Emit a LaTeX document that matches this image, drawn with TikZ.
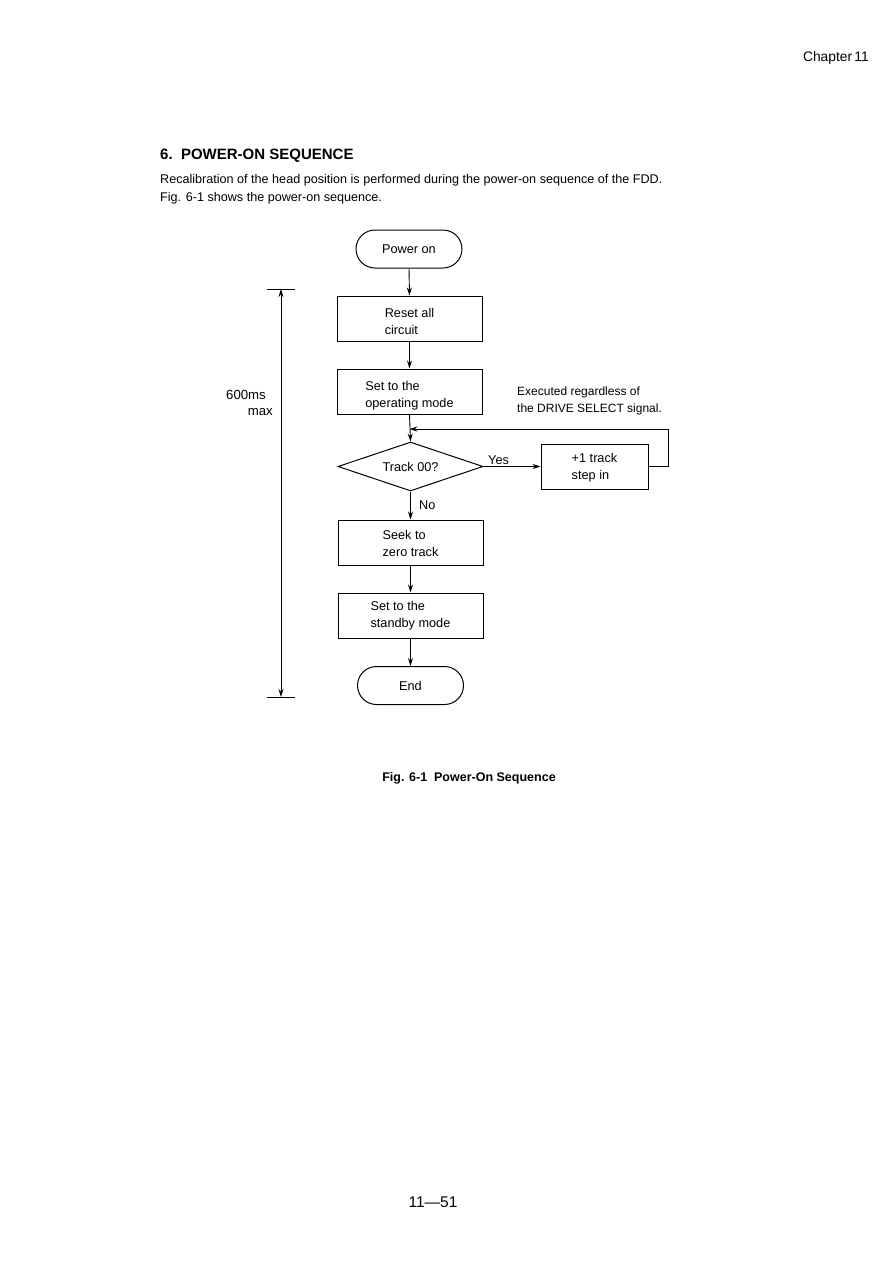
\documentclass[tikz,border=0pt]{standalone}
\usepackage{fontspec}
\setmainfont{Liberation Sans}
\usetikzlibrary{shapes.geometric,shapes.misc,arrows.meta}
\newcommand{\lowerby}[1]{\rule{0pt}{#1}}
\begin{document}
\begin{tikzpicture}[x=1pt,y=-1pt,
  every node/.style={inner sep=0pt},
  txt/.style={font=\fontsize{12.7}{17}\selectfont},
  box/.style={draw, line width=1pt, minimum width=145pt, minimum height=45pt, align=left, txt},
  term/.style={draw, line width=1pt, rounded rectangle, minimum width=106pt, minimum height=38pt, txt},
  dec/.style={draw, line width=1pt, diamond, aspect=3, minimum width=145pt, minimum height=49pt, txt},
  arr/.style={line width=0.9pt, -{Stealth[length=8pt,width=5pt]}},
  dim/.style={line width=0.9pt, {Stealth[length=8pt,width=5pt]}-{Stealth[length=8pt,width=5pt]}},
  body/.style={font=\fontsize{12.6}{18}\selectfont, anchor=base west}
]
\useasboundingbox (0,0) rectangle (889,1264);

% page text
\node[anchor=base east, font=\fontsize{13.8}{15}\selectfont] (chap) at (869,61) {Chapter\,11};
\node[anchor=base west, font=\fontsize{15}{18}\selectfont\bfseries] (head) at (160,159) {6.\ \ POWER-ON SEQUENCE};
\node[body] (p1) at (160,183) {Recalibration of the head position is performed during the power-on sequence of the FDD.};
\node[body] (p2) at (160,201) {Fig. 6-1 shows the power-on sequence.};
\node[font=\fontsize{12.5}{15}\selectfont\bfseries, anchor=base] (cap) at (469,781) {Fig. 6-1\ \ Power-On Sequence};
\node[font=\fontsize{15.5}{17}\selectfont, anchor=base] (pg) at (433,1207) {11---51};

% flowchart
\node[term] (pon) at (409,249) {Power on};
\node[box] (reset) at (409.5,318.5) {\lowerby{15pt}Reset all\\circuit};
\node[box] (oper) at (409.5,391.5) {\lowerby{18pt}Set to the\\operating mode};
\node[dec] (track) at (410.5,466.5) {Track 00?};
\node[box, minimum width=107pt] (step) at (594.5,466.5) {\lowerby{12pt}+1 track\\step in};
\node[box] (seek) at (410.5,542.5) {\lowerby{11pt}Seek to\\zero track};
\node[box] (stdby) at (410.5,615.5) {Set to the\\standby mode};
\node[term] (end) at (410.5,685.5) {End};

\draw[arr] (pon.south) -- (reset.north);
\draw[arr] (reset.south) -- (oper.north);
\draw[arr] (oper.south) -- (track.north);
\draw[arr] (track.east) -- (step.west);
\draw[arr] (track.south) -- (seek.north);
\draw[arr] (seek.south) -- (stdby.north);
\draw[arr] (stdby.south) -- (end.north);

\coordinate (fb) at (668,429);
\draw[arr] (step.east) -- (step.east -| fb) -- (fb) -- (fb -| oper.south);

\node[txt, anchor=base west] (yes) at (488,464) {Yes};
\node[txt, anchor=base west] (no) at (419,509) {No};
\node[font=\fontsize{12}{17}\selectfont, anchor=west, align=left] (note) at (517,401) {Executed regardless of\\the DRIVE SELECT signal.};

% dimension
\coordinate (dt) at (281,289);
\coordinate (db) at (281,697);
\draw[line width=1pt] ([xshift=-14pt]dt) -- ([xshift=14pt]dt);
\draw[line width=1pt] ([xshift=-14pt]db) -- ([xshift=14pt]db);
\draw[dim] (dt) -- (db);
\node[font=\fontsize{13.2}{17}\selectfont, anchor=base east] (ms) at (266,399) {600ms};
\node[font=\fontsize{13.2}{17}\selectfont, anchor=base east] (mx) at (273,415) {max};
\end{tikzpicture}
\end{document}
